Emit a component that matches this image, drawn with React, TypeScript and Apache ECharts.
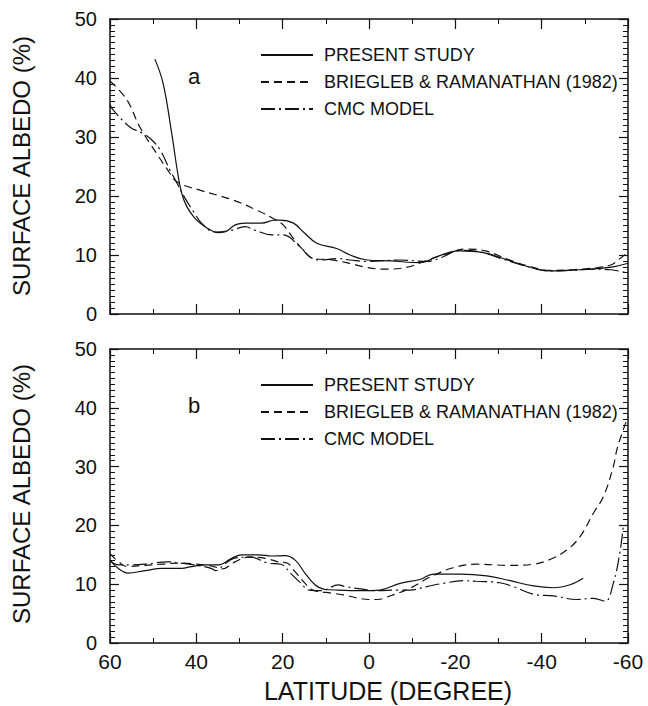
import React, { useEffect, useRef } from "react";
import * as echarts from "echarts";

// ---- Panel a ----
const A_PRESENT_LAT = [49.6, 47.7, 45.7, 44.3, 43.4, 42.2, 40.3, 38, 34.9, 33.4, 31, 28.7, 24.9, 21.8, 20.6, 17.5, 15.2, 12.1, 7.5, 4.4, 0.5, -4.9, -11.8, -15.7, -18.8, -21, -26.5, -31.9, -36.5, -41.9, -47.3, -52.7, -56.6, -60];
const A_PRESENT_VAL = [43.2, 39.1, 30.6, 23.8, 20.5, 18.2, 16.2, 14.8, 13.8, 13.9, 15.1, 15.4, 15.4, 15.9, 15.9, 15.4, 13.9, 12.0, 11.1, 10.0, 9.15, 9.0, 8.7, 9.7, 10.5, 10.7, 10.4, 9.2, 8.1, 7.3, 7.45, 7.7, 8.0, 8.6];

const A_BR_LAT = [60, 56.1, 53.1, 49.2, 46.6, 44.5, 39.2, 31.4, 26, 22.2, 19.9, 17.5, 15.2, 12.9, 9, 5.2, 0.5, -3.3, -8.7, -13.4, -17.2, -22.5, -27, -32, -37, -42, -47, -52, -56, -58, -60];
const A_BR_VAL = [39.5, 36.3, 31.7, 27.2, 24.4, 22.4, 21.0, 19.3, 17.6, 16.2, 15.1, 12.8, 10.8, 9.4, 9.2, 8.7, 7.9, 7.6, 7.9, 9.1, 10.0, 11.0, 10.7, 9.3, 8.1, 7.4, 7.5, 7.8, 8.3, 9.3, 10.5];

const A_CMC_LAT = [60, 59.3, 55.4, 52.4, 50.3, 48.4, 46.1, 44.5, 42.6, 40.5, 38.8, 35.7, 31.8, 28.7, 26.4, 22.5, 19.9, 16, 13.7, 11.4, 7.5, 4.4, 0.5, -7.2, -13.4, -17.2, -21, -26, -31, -37, -42, -47, -52, -56, -60];
const A_CMC_VAL = [35.5, 34.6, 31.7, 30.6, 29.5, 27.8, 24.4, 22.2, 19.6, 17.2, 15.4, 13.9, 14.2, 14.8, 14.2, 13.4, 13.4, 11.4, 9.7, 9.15, 9.4, 9.15, 8.9, 9.15, 8.9, 9.7, 10.8, 10.5, 9.3, 8.0, 7.3, 7.4, 7.6, 7.5, 6.9];

// ---- Panel b ----
const B_PRESENT_LAT = [60, 58.1, 55.8, 51.9, 48.0, 43.4, 41.1, 38.0, 34.9, 31.8, 29.5, 25.6, 22.5, 19.5, 17.1, 14.8, 12.5, 10.2, 7.1, 0.9, -2.5, -7.2, -11.8, -14.9, -21.1, -27.3, -32.7, -38.1, -42.7, -46.6, -49.6];
const B_PRESENT_VAL = [14.1, 12.7, 11.9, 12.3, 12.7, 12.7, 13.0, 13.3, 13.3, 14.4, 15.0, 15.0, 14.8, 14.85, 14.1, 11.85, 9.9, 9.1, 9.0, 8.9, 9.0, 10.15, 10.8, 11.7, 11.7, 11.4, 10.6, 9.7, 9.4, 9.9, 11.0];

const B_BR_LAT = [60, 58, 56, 52, 48, 44, 40, 36, 34, 31, 28, 24, 21, 19, 17, 15, 13, 10, 6, 3, 0, -2, -4.1, -9.5, -14.1, -19.5, -24.9, -32.7, -38.1, -41.9, -45.8, -48.9, -52, -54.3, -56.6, -57.4, -58.5, -60];
const B_BR_VAL = [15.2, 13.8, 13.0, 13.2, 13.4, 13.6, 13.4, 13.0, 12.6, 13.8, 14.6, 14.4, 13.8, 13.6, 12.0, 10.3, 9.0, 8.6, 8.2, 7.7, 7.4, 7.4, 7.8, 9.3, 11.2, 12.8, 13.4, 13.2, 13.4, 14.2, 15.8, 18.1, 22.1, 24.9, 30.0, 32.8, 35.4, 38.5];

const B_CMC_LAT = [60, 58, 55, 52, 46.6, 43.6, 40.5, 36.6, 35.5, 33.6, 31.3, 27.4, 23.5, 20.4, 18.1, 15.8, 13.9, 11, 7.1, 5.6, 2, -2, -6.4, -9.5, -13.4, -17.2, -21.8, -24.9, -30.3, -33.4, -38.1, -42.7, -48.1, -52, -54.7, -56.6, -58.1, -58.9];
const B_CMC_VAL = [14.0, 13.3, 13.3, 13.4, 13.8, 13.6, 13.3, 12.7, 12.3, 13.3, 14.4, 14.6, 13.6, 13.4, 11.8, 10.2, 9.0, 8.9, 9.9, 9.6, 9.2, 8.9, 9.0, 9.0, 9.6, 10.15, 10.6, 10.5, 10.25, 9.6, 8.3, 8.0, 7.4, 7.6, 7.1, 10.15, 15.3, 19.8];

const SERIES_NAMES = ["PRESENT STUDY", "BRIEGLEB & RAMANATHAN (1982)", "CMC MODEL"];
const X_MIN = -60;
const X_MAX = 60;
const X_INTERVAL = 20;
const Y_MIN = 0;
const Y_MAX = 50;
const Y_INTERVAL = 10;
const PANEL_LETTERS = ["a", "b"];
const Y_TITLE = "SURFACE ALBEDO (%)";
const X_TITLE = "LATITUDE (DEGREE)";

const zip = (a: number[], b: number[]) => a.map((v, i) => [v, b[i]]);

const FONT = "Liberation Sans, Arial, Helvetica, sans-serif";
const INK = "#111111";

export default function App() {
  const ref = useRef<HTMLDivElement>(null);
  useEffect(() => {
    if (!ref.current) return;
    const chart = echarts.init(ref.current, null, { renderer: "svg" });

    const grids = [
      { left: 110, top: 19, width: 518, height: 295 },
      { left: 110, top: 349, width: 518, height: 294 },
    ];

    const base = (extra: any) => ({
      type: "value",
      axisLine: { show: true, onZero: false, lineStyle: { color: INK, width: 1.5 } },
      axisTick: { show: true, inside: true, length: 10, lineStyle: { color: INK, width: 1.2 } },
      minorTick: { show: true, splitNumber: 2, length: 5, lineStyle: { color: INK, width: 1 } },
      splitLine: { show: false },
      ...extra,
    });

    const xAxes: any[] = [];
    const yAxes: any[] = [];
    grids.forEach((_, gi) => {
      ["bottom", "top"].forEach((pos) => {
        xAxes.push(
          base({
            gridIndex: gi,
            position: pos,
            min: X_MIN,
            max: X_MAX,
            interval: X_INTERVAL,
            inverse: true,
            axisLabel: {
              show: gi === 1 && pos === "bottom",
              fontSize: 21,
              fontFamily: FONT,
              color: INK,
              margin: 8,
            },
          })
        );
      });
      ["left", "right"].forEach((pos) => {
        yAxes.push(
          base({
            gridIndex: gi,
            position: pos,
            min: Y_MIN,
            max: Y_MAX,
            interval: Y_INTERVAL,
            axisTick: { show: true, inside: true, length: 9, lineStyle: { color: INK, width: 1.2 } },
            minorTick: { show: true, splitNumber: 10, length: 5, lineStyle: { color: INK, width: 1 } },
            axisLabel: {
              show: pos === "left",
              fontSize: 20,
              fontFamily: FONT,
              color: INK,
              margin: 13,
            },
          })
        );
      });
    });

    const styles = [
      { color: INK, width: 1.2, type: "solid" },
      { color: INK, width: 1.2, type: [8, 5] },
      { color: INK, width: 1.2, type: [14, 4, 2, 4] },
    ];

    const panelData = [
      [zip(A_PRESENT_LAT, A_PRESENT_VAL), zip(A_BR_LAT, A_BR_VAL), zip(A_CMC_LAT, A_CMC_VAL)],
      [zip(B_PRESENT_LAT, B_PRESENT_VAL), zip(B_BR_LAT, B_BR_VAL), zip(B_CMC_LAT, B_CMC_VAL)],
    ];

    const series: any[] = [];
    panelData.forEach((sets, gi) => {
      sets.forEach((d, si) => {
        series.push({
          type: "line",
          name: SERIES_NAMES[si],
          xAxisIndex: gi * 2,
          yAxisIndex: gi * 2,
          data: d,
          smooth: 0.4,
          symbol: "none",
          showSymbol: false,
          lineStyle: styles[si],
          itemStyle: { color: INK },
        });
      });
    });

    const legendTops = [46, 376];
    const legends = legendTops.map((t) => ({
      data: SERIES_NAMES,
      orient: "vertical",
      left: 260,
      top: t,
      padding: 0,
      itemWidth: 52,
      itemHeight: 14,
      itemGap: 9,
      selectedMode: false,
      itemStyle: { opacity: 0 },
      textStyle: {
        fontSize: 18,
        fontFamily: FONT,
        color: INK,
        lineHeight: 14,
        padding: [0, 0, 0, 6],
      },
    }));

    const graphics: any[] = [
      { type: "text", left: 188, top: 65, style: { text: PANEL_LETTERS[0], font: `22px ${FONT}`, fill: INK } },
      { type: "text", left: 188, top: 394, style: { text: PANEL_LETTERS[1], font: `22px ${FONT}`, fill: INK } },
      {
        type: "text",
        x: 21,
        y: 166,
        rotation: Math.PI / 2,
        style: { text: Y_TITLE, font: `24px ${FONT}`, fill: INK, align: "center", verticalAlign: "middle" },
      },
      {
        type: "text",
        x: 21,
        y: 494,
        rotation: Math.PI / 2,
        style: { text: Y_TITLE, font: `24px ${FONT}`, fill: INK, align: "center", verticalAlign: "middle" },
      },
      {
        type: "text",
        x: 388,
        y: 691,
        style: { text: X_TITLE, font: `25px ${FONT}`, fill: INK, align: "center", verticalAlign: "middle" },
      },
    ];

    chart.setOption({
      animation: false,
      grid: grids,
      xAxis: xAxes,
      yAxis: yAxes,
      legend: legends,
      series,
      graphic: graphics,
    });

    return () => chart.dispose();
  }, []);

  return (
    <div
      ref={ref}
      style={{ position: "fixed", left: 0, top: 0, width: 648, height: 706, background: "#fff" }}
    />
  );
}
